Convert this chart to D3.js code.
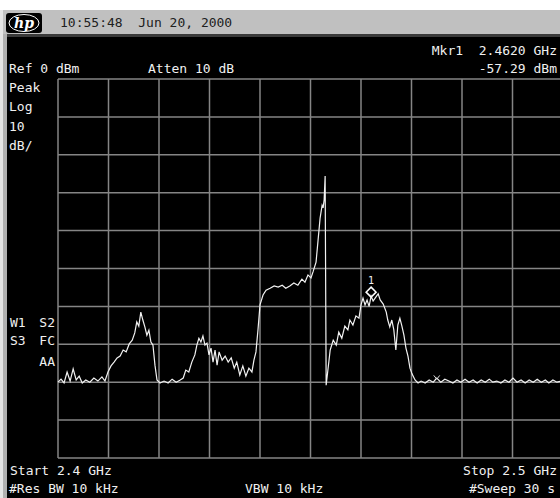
<!DOCTYPE html>
<html>
<head>
<meta charset="utf-8">
<script src="https://cdn.jsdelivr.net/npm/d3@7"></script>
<style>
  body { margin: 0; background: #000; }
  text { font-family: "DejaVu Sans Mono", monospace; font-size: 13px; fill: #f0f0f0; white-space: pre; }
</style>
</head>
<body>
<script>
// trace: frequency (MHz) and level (dBm)
const freqMHz = [
  2400.0, 2400.6, 2401.2, 2401.8, 2402.4, 2403.0, 2403.6, 2404.2, 2404.8, 2405.5,
  2406.3, 2407.1, 2407.9, 2408.7, 2409.3, 2409.9, 2410.5, 2411.1, 2411.7, 2412.3,
  2412.9, 2413.5, 2414.1, 2414.7, 2415.2, 2415.6, 2416.0, 2416.4, 2416.8, 2417.2,
  2417.6, 2418.0, 2418.4, 2418.8, 2419.2, 2419.6, 2420.2, 2421.0, 2421.8, 2422.6,
  2423.4, 2424.2, 2424.8, 2425.3, 2425.9, 2426.5, 2427.1, 2427.5, 2427.9, 2428.3,
  2428.7, 2429.1, 2429.5, 2429.9, 2430.3, 2430.7, 2431.1, 2431.5, 2431.9, 2432.5,
  2433.1, 2433.7, 2434.3, 2434.9, 2435.4, 2436.0, 2436.6, 2437.2, 2437.8, 2438.4,
  2438.8, 2439.2, 2439.6, 2440.0, 2440.6, 2441.2, 2442.0, 2442.8, 2443.6, 2444.4,
  2445.1, 2445.9, 2446.7, 2447.5, 2448.3, 2448.9, 2449.5, 2450.1, 2450.5, 2451.1,
  2451.5, 2451.9, 2452.3, 2452.5, 2452.7, 2452.9, 2453.1, 2453.9, 2454.5, 2455.1,
  2455.6, 2456.2, 2456.8, 2457.4, 2457.8, 2458.4, 2459.0, 2459.6, 2460.0, 2460.4,
  2460.8, 2461.2, 2461.6, 2462.0, 2462.4, 2462.8, 2463.4, 2463.8, 2464.4, 2465.0,
  2465.3, 2465.7, 2466.1, 2466.5, 2466.9, 2467.3, 2467.7, 2468.1, 2468.5, 2468.9,
  2469.3, 2469.7, 2470.1, 2470.7, 2471.3, 2471.9, 2472.7, 2473.5, 2474.3, 2475.0,
  2475.8, 2476.6, 2477.4, 2478.2, 2479.0, 2479.8, 2480.6, 2481.4, 2482.2, 2483.0,
  2483.8, 2484.6, 2485.4, 2486.1, 2486.9, 2487.7, 2488.5, 2489.3, 2490.1, 2490.9,
  2491.7, 2492.5, 2493.3, 2494.1, 2494.9, 2495.7, 2496.5, 2497.2, 2498.0, 2498.8,
  2499.6, 2500.0
];
const levelDbm = [
  -80.0, -79.2, -80.2, -77.3, -79.7, -76.5, -79.4, -78.4, -80.2, -79.4,
  -80.0, -78.9, -79.7, -78.6, -79.7, -77.3, -75.7, -74.7, -73.6, -73.1,
  -71.5, -72.0, -69.9, -68.9, -67.0, -64.1, -65.2, -61.5, -63.6, -65.4,
  -67.6, -66.3, -69.4, -70.2, -75.5, -79.4, -80.2, -79.7, -80.2, -79.2,
  -80.0, -79.4, -78.9, -76.8, -77.3, -74.7, -72.8, -70.2, -68.4, -69.4,
  -67.8, -70.2, -69.7, -72.8, -71.0, -74.7, -71.5, -75.5, -72.0, -74.2,
  -73.1, -74.7, -73.6, -76.3, -74.7, -78.1, -75.7, -78.4, -76.3, -77.3,
  -74.2, -72.0, -66.2, -59.6, -57.0, -55.7, -55.2, -54.6, -54.9, -54.4,
  -55.2, -54.6, -53.8, -54.4, -52.8, -53.6, -51.7, -52.5, -50.9, -48.3,
  -42.5, -36.7, -33.3, -34.0, -31.9, -25.6, -80.8, -71.5, -68.9, -70.2,
  -66.8, -68.4, -65.2, -66.2, -63.6, -64.9, -62.5, -63.1, -59.6, -57.8,
  -59.6, -58.3, -60.0, -57.3, -58.6, -57.8, -56.7, -58.3, -59.4, -61.5,
  -63.6, -65.4, -63.6, -66.2, -71.5, -64.9, -63.1, -65.2, -67.6, -71.0,
  -73.1, -76.3, -77.8, -79.4, -80.2, -79.7, -80.2, -79.4, -80.0, -78.9,
  -80.0, -79.2, -79.7, -80.2, -79.4, -80.0, -79.2, -80.0, -79.4, -80.2,
  -79.4, -80.0, -79.2, -80.0, -79.7, -80.2, -79.4, -80.0, -78.9, -80.0,
  -79.4, -80.2, -79.4, -80.0, -79.2, -80.0, -79.4, -80.2, -79.4, -80.0,
  -79.7, -80.0
];
const freqTicks = [2400, 2410, 2420, 2430, 2440, 2450, 2460, 2470, 2480, 2490, 2500];
const levelTicks = [0, -10, -20, -30, -40, -50, -60, -70, -80, -90, -100];
const marker = { freq: 2462.0, level: -57.29, label: '1' };
const markFreq = [2475.0];

const width = 560, height = 498;
const svg = d3.select('body').append('svg')
  .attr('width', width)
  .attr('height', height);

// screen frame
svg.append('rect').attr('width', width).attr('height', height).attr('fill', '#000');
svg.append('rect').attr('width', width).attr('height', 10).attr('fill', '#fff');
svg.append('rect').attr('y', 10).attr('width', width).attr('height', 25).attr('fill', '#c0c0c0');
svg.append('rect').attr('y', 34).attr('width', width).attr('height', 3).attr('fill', '#3a3a3a');
svg.append('rect').attr('y', 10).attr('width', 3).attr('height', height).attr('fill', '#e4e4e4');
svg.append('rect').attr('x', 3).attr('y', 34).attr('width', 4).attr('height', height).attr('fill', '#b0b0b0');

// hp logo
svg.append('rect').attr('x', 6).attr('y', 13).attr('width', 36).attr('height', 20).attr('rx', 3).attr('fill', '#000');
svg.append('ellipse').attr('cx', 24).attr('cy', 23).attr('rx', 15).attr('ry', 8.5)
  .attr('fill', 'none').attr('stroke', '#fff').attr('stroke-width', 1);
svg.append('text').attr('x', 24).attr('y', 28).attr('text-anchor', 'middle')
  .style('font-family', 'DejaVu Serif').style('font-style', 'italic').style('font-weight', 'bold')
  .style('font-size', '14px').style('fill', '#fff').text('hp');

svg.append('text').attr('x', 60).attr('y', 27).style('fill', '#202020')
  .text('10:55:48  Jun 20, 2000');

// scales
const x = d3.scaleLinear().domain([2400, 2500]).range([58, 563]);
const y = d3.scaleLinear().domain([-100, 0]).range([458, 79]);

// graticule
const grid = svg.append('g').attr('stroke', '#858585').attr('stroke-width', 1.5);
grid.selectAll('.v').data(freqTicks).enter().append('line')
  .attr('x1', d => x(d)).attr('x2', d => x(d))
  .attr('y1', y(0)).attr('y2', y(-100));
grid.selectAll('.h').data(levelTicks).enter().append('line')
  .attr('x1', x(2400)).attr('x2', x(2500))
  .attr('y1', d => y(d)).attr('y2', d => y(d));

// trace
const pts = freqMHz.map((f, i) => [f, levelDbm[i]]);
const line = d3.line().x(d => x(d[0])).y(d => y(d[1]));
svg.append('path').datum(pts)
  .attr('d', line)
  .attr('fill', 'none')
  .attr('stroke', '#f2f2f2')
  .attr('stroke-width', 1.2);

// marker 1
const mx = x(marker.freq), my = y(marker.level) - 4;
svg.append('path')
  .attr('d', `M${mx},${my - 5}L${mx + 5},${my}L${mx},${my + 5}L${mx - 5},${my}Z`)
  .attr('fill', 'none').attr('stroke', '#fff').attr('stroke-width', 1.5);
svg.append('text').attr('x', mx).attr('y', my - 8).attr('text-anchor', 'middle')
  .style('font-size', '10px').text(marker.label);

// small v mark on the floor
svg.selectAll('.vm').data(markFreq).enter().append('path')
  .attr('d', d => `M${x(d) - 3},${y(-78.2)}L${x(d)},${y(-79.2)}L${x(d) + 3},${y(-78.2)}`)
  .attr('fill', 'none').attr('stroke', '#ddd').attr('stroke-width', 1);

// annotations
const txt = (tx, ty, s, anchor) => svg.append('text')
  .attr('x', tx).attr('y', ty).attr('text-anchor', anchor || 'start').text(s);

txt(557, 55, 'Mkr1  2.4620 GHz', 'end');
txt(557, 73, '-57.29 dBm', 'end');
txt(9, 73, 'Ref 0 dBm');
txt(148, 73, 'Atten 10 dB');
txt(9, 92, 'Peak');
txt(9, 111, 'Log');
txt(9, 131, '10');
txt(9, 150, 'dB/');
txt(10, 327, 'W1');
txt(55, 327, 'S2', 'end');
txt(10, 345, 'S3');
txt(55, 345, 'FC', 'end');
txt(55, 366, 'AA', 'end');
txt(10, 475, 'Start 2.4 GHz');
txt(557, 475, 'Stop 2.5 GHz', 'end');
txt(9, 493, '#Res BW 10 kHz');
txt(245, 493, 'VBW 10 kHz');
txt(555, 493, '#Sweep 30 s', 'end');
</script>
</body>
</html>
